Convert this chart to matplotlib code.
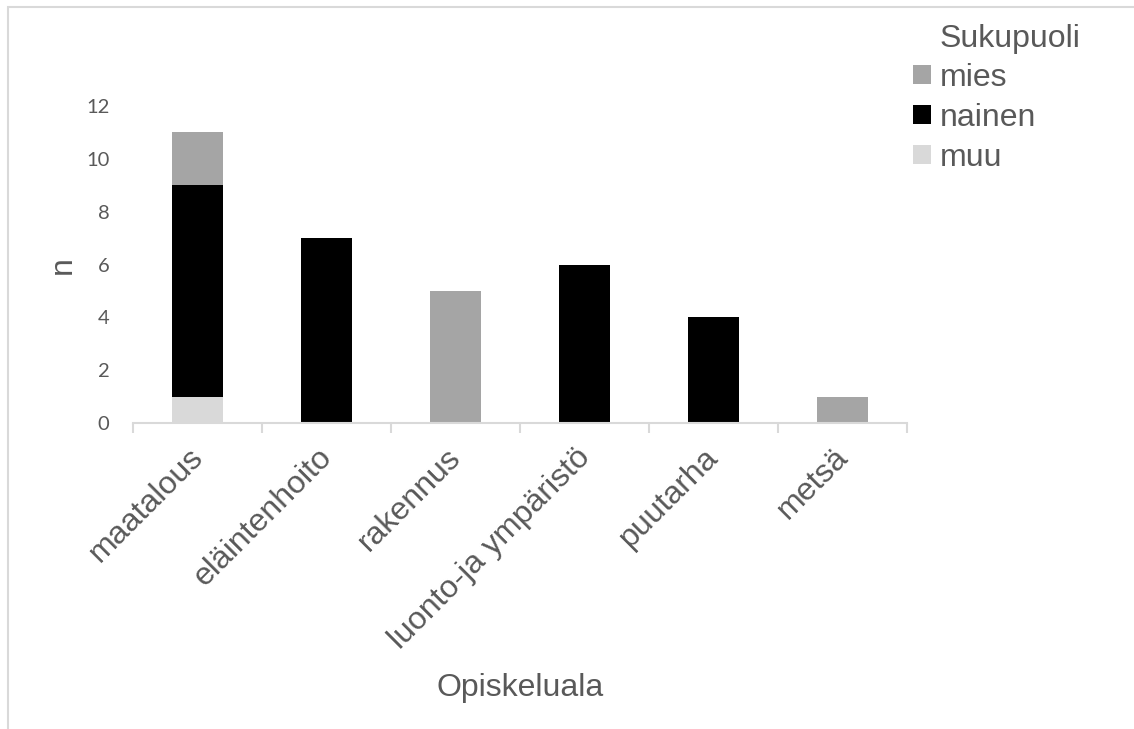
import matplotlib
matplotlib.use('Agg')
from matplotlib import pyplot as plt
from matplotlib.patches import Rectangle
import numpy as np

# data
alat = ['maatalous', 'eläintenhoito', 'rakennus', 'luonto-ja ympäristö', 'puutarha', 'metsä']
muu = [1, 0, 0, 0, 0, 0]
nainen = [8, 7, 0, 6, 4, 0]
mies = [2, 0, 5, 0, 0, 1]

c_mies = '#A5A5A5'
c_nainen = '#000000'
c_muu = '#D9D9D9'
txt = '#595959'
big = 23

plt.rcParams['font.family'] = ['Liberation Sans', 'DejaVu Sans']

W, H = 1134, 729
fig = plt.figure(figsize=(W / 100, H / 100), dpi=100)
ax = fig.add_axes([133 / W, 1 - 423 / H, (907 - 133) / W, (423 - 106) / H])

x = np.arange(len(alat))
ax.bar(x, muu, 0.4, color=c_muu, label='muu')
ax.bar(x, nainen, 0.4, bottom=muu, color=c_nainen, label='nainen')
ax.bar(x, mies, 0.4, bottom=np.array(muu) + np.array(nainen), color=c_mies, label='mies')

ax.set_xlim(-0.5, len(alat) - 0.5)
ax.set_ylim(0, 12)
ax.set_yticks(range(0, 13, 2))
for s in ['top', 'right', 'left']:
    ax.spines[s].set_visible(False)
ax.spines['bottom'].set_color(c_muu)
ax.spines['bottom'].set_linewidth(1.5)

ax.tick_params(axis='y', length=0, pad=17, labelcolor=txt, labelsize=14.5)
for lab in ax.get_yticklabels():
    lab.set_family('Lato')

# category boundaries carry the tick marks
ax.set_xticks(np.arange(len(alat) + 1) - 0.5)
ax.set_xticklabels([])
ax.tick_params(axis='x', length=7, width=1.5, color=c_muu, direction='out')
for i, a in enumerate(alat):
    ax.annotate(a, xy=(i, 0), xycoords=('data', 'axes fraction'),
                xytext=(-7, -14), textcoords='offset points',
                rotation=45, rotation_mode='anchor', ha='right', va='top',
                fontsize=big, color=txt)

fig.text(63 / W, 1 - 265 / H, 'n', rotation=90, ha='center', va='center',
         fontsize=big, color=txt)
fig.text(520 / W, 1 - 688 / H, 'Opiskeluala', ha='center', va='center',
         fontsize=big, color=txt)

h, l = ax.get_legend_handles_labels()
leg = fig.legend(h[::-1], l[::-1], loc='upper left', bbox_to_anchor=(913 / W, 1 - 63 / H),
                 frameon=False, fontsize=big, borderpad=0, borderaxespad=0,
                 handlelength=0.55, handleheight=0.55, handletextpad=0.3,
                 labelspacing=0.31)
for t in leg.get_texts():
    t.set_color(txt)
fig.text(940 / W, 1 - 39 / H, 'Sukupuoli', ha='left', va='center',
         fontsize=big, color=txt)

# chart area border (top + left visible)
fig.patches.append(Rectangle((8 / W, -0.05), 1.1, 1 - 7 / H + 0.05, transform=fig.transFigure,
                             fill=False, edgecolor=c_muu, linewidth=1.5, clip_on=False))

fig.savefig('out.png', dpi=100)
